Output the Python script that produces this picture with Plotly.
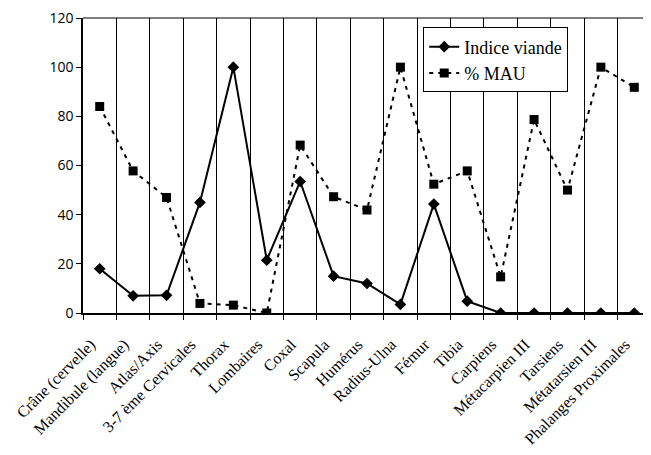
import plotly.graph_objects as go

categories = ["Crâne (cervelle)", "Mandibule (langue)", "Atlas/Axis", "3-7 ème Cervicales",
              "Thorax", "Lombaires", "Coxal", "Scapula", "Humérus", "Radius-Ulna", "Fémur",
              "Tibia", "Carpiens", "Métacarpien III", "Tarsiens", "Métatarsien III",
              "Phalanges Proximales"]
indice_viande = [18, 7, 7.2, 45, 100, 21.5, 53.5, 15, 12, 3.5, 44.3, 4.8, 0, 0, 0, 0, 0]
pct_mau = [84, 57.8, 47, 3.9, 3.2, 0, 68.3, 47.3, 41.9, 100, 52.4, 57.8, 14.7, 78.7, 50, 100, 91.8]
y_ticks = [0, 20, 40, 60, 80, 100, 120]

fig = go.Figure()
fig.add_trace(go.Scatter(
    x=categories, y=indice_viande, name="Indice viande", mode="lines+markers",
    line=dict(color="black", width=2),
    marker=dict(symbol="diamond", size=9, color="black"),
))
fig.add_trace(go.Scatter(
    x=categories, y=pct_mau, name="% MAU", mode="lines+markers",
    line=dict(color="black", width=2, dash="4px,5px"),
    marker=dict(symbol="square", size=9, color="black"),
))

fig.update_layout(
    width=643, height=447,
    margin=dict(l=75, r=0, t=10, b=142, autoexpand=False),
    paper_bgcolor="white", plot_bgcolor="white",
    showlegend=True,
    legend=dict(
        x=0.599, y=0.968, xanchor="left", yanchor="top",
        bordercolor="black", borderwidth=1, bgcolor="white",
        font=dict(family="Liberation Serif", size=18, color="black"),
        tracegroupgap=2,
    ),
    xaxis=dict(
        type="category", tickson="boundaries", showgrid=True, gridcolor="black", gridwidth=1,
        ticks="outside", ticklen=5, tickcolor="black", tickwidth=1,
        showline=True, linecolor="black", linewidth=2,
        tickangle=-45, automargin=False, ticklabelstandoff=14, ticklabelshift=-9,
        ticklabeloverflow="allow",
        tickfont=dict(family="Liberation Serif", size=16, color="black"),
        range=[-0.5, 16.5],
    ),
    yaxis=dict(
        range=[0, 120], tickvals=y_ticks, showgrid=False, zeroline=False,
        ticks="outside", ticklen=5, tickcolor="black", automargin=False,
        ticklabeloverflow="allow",
        showline=True, linecolor="black", linewidth=1.5,
        tickfont=dict(family="Open Sans", size=14, color="black"),
    ),
    shapes=[dict(type="line", xref="paper", yref="paper", x0=0, x1=1, y0=1, y1=1,
                 line=dict(color="black", width=1))],
)

fig.write_html("out.html")
